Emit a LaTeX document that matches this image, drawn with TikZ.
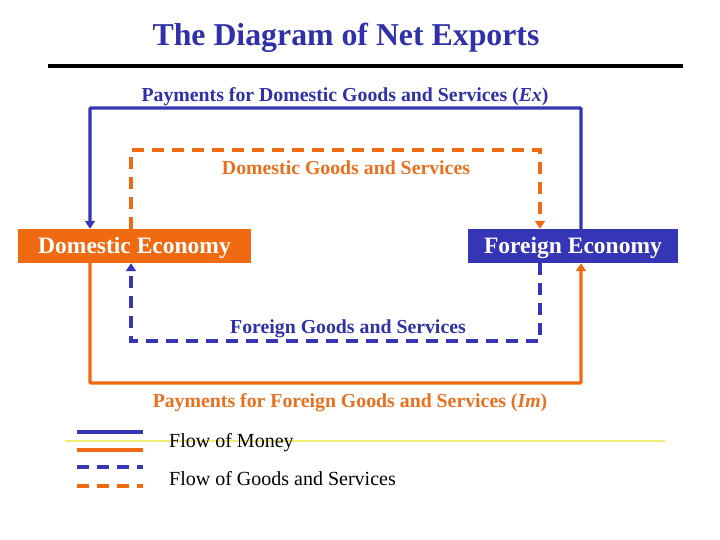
\documentclass[tikz,border=0pt]{standalone}
\usepackage{fontspec}
\setmainfont{Liberation Serif}
\usetikzlibrary{arrows.meta}
\definecolor{mblue}{HTML}{3535B5}
\definecolor{morange}{HTML}{F06A12}
\definecolor{tblue}{HTML}{3030A8}
\definecolor{torange}{HTML}{E8701E}
\definecolor{lyellow}{HTML}{EEEE77}
\tikzset{
  econ/.style={draw=none, text=white, minimum height=34pt, inner sep=0pt, text depth=0pt, text height=16pt, font=\bfseries\fontsize{23.5}{26}\selectfont},
  flow/.style={line width=3.2pt, -{Triangle[length=8pt,width=10pt]}},
  money/.style={flow},
  goods/.style={flow, dash pattern=on 12pt off 8pt},
  lbl/.style={font=\bfseries\fontsize{19.8}{22}\selectfont, inner sep=1pt},
  legline/.style={line width=3.2pt},
  legtxt/.style={font=\fontsize{20}{22}\selectfont, anchor=west, inner sep=0pt}
}
\begin{document}
\begin{tikzpicture}[x=1pt,y=-1pt]
\useasboundingbox[fill=white] (0,0) rectangle (720,540);
% title
\node[font=\bfseries\fontsize{31.8}{34}\selectfont, text=tblue] (title) at (346,38) {The Diagram of Net Exports};
\coordinate (rl) at (48,66);
\coordinate (rr) at (683,66);
\draw[line width=3.2pt] (rl) -- (rr);
% economies
\node[econ, fill=morange, minimum width=233pt] (dom) at (134.5,246) {Domestic Economy};
\node[econ, fill=mblue, minimum width=210pt] (for) at (573,246) {Foreign Economy};
% column coordinates
\coordinate (xa) at (90,0);
\coordinate (xb) at (131,0);
\coordinate (xc) at (540,0);
\coordinate (xd) at (581,0);
\coordinate (ya) at (0,108);
\coordinate (yb) at (0,150);
\coordinate (yc) at (0,341);
\coordinate (yd) at (0,383);
% payments for domestic goods (blue solid)
\draw[money, draw=mblue, rounded corners=1pt] (for.north -| xd) -- (xd |- ya) -- (xa |- ya) -- (dom.north -| xa);
% domestic goods (orange dashed)
\draw[goods, draw=morange] (dom.north -| xb) -- (xb |- yb) -- (xc |- yb) -- (for.north -| xc);
% foreign goods (blue dashed)
\draw[goods, draw=mblue] (for.south -| xc) -- (xc |- yc) -- (xb |- yc) -- (dom.south -| xb);
% payments for foreign goods (orange solid)
\draw[money, draw=morange, rounded corners=1pt] (dom.south -| xa) -- (xa |- yd) -- (xd |- yd) -- (for.south -| xd);
% labels
\node[lbl, text=tblue] (l1) at (345,96.5) {Payments for Domestic Goods and Services (\textit{Ex})};
\node[lbl, text=torange] (l2) at (346,167.5) {Domestic Goods and Services};
\node[lbl, text=tblue] (l3) at (348,328.5) {Foreign Goods and Services};
\node[lbl, text=torange] (l4) at (350,402.5) {Payments for Foreign Goods and Services (\textit{Im})};
% legend
\coordinate (yl1) at (65,441);
\coordinate (yl2) at (665,441);
\draw[lyellow, line width=1.2pt] (yl1) -- (yl2);
\coordinate (la1) at (77,432); \coordinate (lb1) at (143,432);
\coordinate (la2) at (77,450); \coordinate (lb2) at (143,450);
\coordinate (la3) at (77,467); \coordinate (lb3) at (143,467);
\coordinate (la4) at (77,486); \coordinate (lb4) at (143,486);
\draw[legline, mblue] (la1) -- (lb1);
\draw[legline, morange] (la2) -- (lb2);
\draw[legline, mblue, dash pattern=on 12pt off 8pt] (la3) -- (lb3);
\draw[legline, morange, dash pattern=on 12pt off 8pt] (la4) -- (lb4);
\node[legtxt] (t1) at (169,443) {Flow of Money};
\node[legtxt] (t2) at (169,479) {Flow of Goods and Services};
\end{tikzpicture}
\end{document}
